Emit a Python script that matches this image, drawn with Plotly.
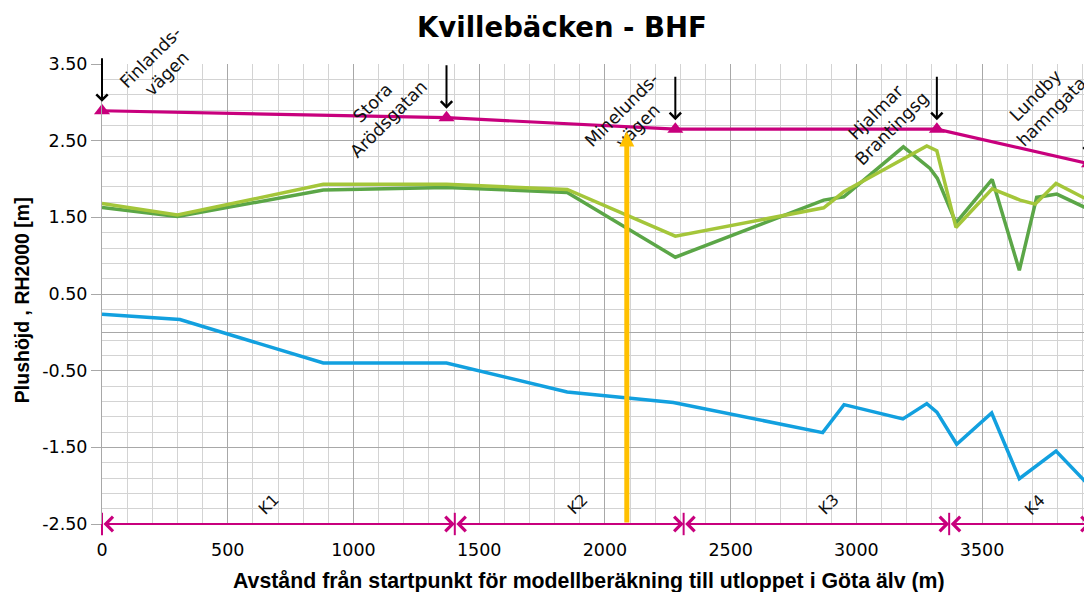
import plotly.graph_objects as go

# ---------------- data ----------------
dist_dg = [0, 300, 880, 1370, 1850, 2280, 2870, 2950, 3187, 3293, 3322, 3396, 3540, 3648, 3717, 3797, 3937]
level_dg = [1.63, 1.51, 1.855, 1.89, 1.825, 0.98, 1.725, 1.768, 2.42, 2.138, 2.008, 1.428, 1.995, 0.81, 1.76, 1.803, 1.585]

dist_lg = [0, 300, 880, 1370, 1850, 2280, 2870, 2950, 3280, 3320, 3396, 3540, 3651, 3711, 3794, 3937]
level_lg = [1.68, 1.53, 1.93, 1.93, 1.864, 1.254, 1.624, 1.833, 2.43, 2.368, 1.368, 1.872, 1.725, 1.672, 1.943, 1.70]

dist_bl = [0, 310, 880, 1370, 1850, 2272, 2866, 2951, 3185, 3280, 3320, 3399, 3538, 3648, 3794, 3937]
level_bl = [0.236, 0.167, -0.40, -0.40, -0.778, -0.916, -1.308, -0.943, -1.13, -0.93, -1.04, -1.46, -1.052, -1.91, -1.548, -2.04]

bridge_names = ["Finlands-<br>vägen", "Stora<br>Arödsgatan", "Minelunds-<br>vägen",
                "Hjalmar<br>Brantingsg", "Lundby<br>hamngata"]
bridge_dist = [0, 1370, 2280, 3320, 3925]
bridge_level = [2.89, 2.80, 2.65, 2.65, 2.20]

reach_names = ["K1", "K2", "K3", "K4"]
reach_bounds = [0, 1403, 2313, 3369, 3932]
reach_label_dist = [661, 1889, 2888, 3710]

marker_dist = 2087
marker_top = 2.62

x_ticks = [0, 500, 1000, 1500, 2000, 2500, 3000, 3500]
y_ticks = [-2.5, -1.5, -0.5, 0.5, 1.5, 2.5, 3.5]
y_tick_text = [f"{v:.2f}" for v in y_ticks]

# ---------------- styling ----------------
MAG = "#C8007D"
DG = "#5BA647"
LG = "#A4C63A"
BL = "#12A0DF"
OR = "#FFC000"
FONT = "DejaVu Sans"
BOLD = "Liberation Sans"

fig = go.Figure()
fig.add_trace(go.Scatter(x=dist_bl, y=level_bl, mode="lines", line=dict(color=BL, width=3.5), showlegend=False))
fig.add_trace(go.Scatter(x=dist_dg, y=level_dg, mode="lines", line=dict(color=DG, width=3.5), showlegend=False))
fig.add_trace(go.Scatter(x=dist_lg, y=level_lg, mode="lines", line=dict(color=LG, width=3.5), showlegend=False))
fig.add_trace(go.Scatter(x=bridge_dist, y=bridge_level, mode="lines+markers",
                         line=dict(color=MAG, width=3.2),
                         marker=dict(symbol="triangle-up", size=14, color=MAG),
                         showlegend=False, cliponaxis=False))
# reach boundary bars
fig.add_trace(go.Scatter(x=reach_bounds[:-1], y=[y_ticks[0]] * (len(reach_bounds) - 1), mode="markers",
                         marker=dict(symbol="line-ns-open", size=16, color=MAG, line=dict(color=MAG, width=2)),
                         showlegend=False, cliponaxis=False))

ann = []
# bridge labels and arrows
label_shift = [(57, 45), (-66, 6), (-46, 11), (-53, 9), (-45, 60)]
for name, bx, by, (sx, sy) in zip(bridge_names, bridge_dist, bridge_level, label_shift):
    ann.append(dict(x=bx, y=by, xref="x", yref="y", text=name, showarrow=False,
                    textangle=-45, xshift=sx, yshift=sy, align="center",
                    font=dict(family=FONT, size=17.5, color="#111")))
    ann.append(dict(x=bx, y=by, xref="x", yref="y", text="", showarrow=True,
                    ax=0, ay=-54, arrowhead=4, arrowsize=1.1, arrowwidth=2,
                    arrowcolor="black", standoff=9))

# reach arrows along the bottom
for i, name in enumerate(reach_names):
    ann.append(dict(x=reach_bounds[i + 1], y=y_ticks[0], ax=reach_bounds[i], ay=y_ticks[0],
                    xref="x", yref="y", axref="x", ayref="y", text="", showarrow=True,
                    arrowside="end+start", arrowhead=4, startarrowhead=4,
                    arrowsize=1.4, startarrowsize=1.4, arrowwidth=2, arrowcolor=MAG,
                    standoff=0, startstandoff=0))
    ann.append(dict(x=reach_label_dist[i], y=y_ticks[0], xref="x", yref="y", text=name,
                    showarrow=False, textangle=-45, yshift=20,
                    font=dict(family=FONT, size=16, color="#111")))

# orange marker arrow
ann.append(dict(x=marker_dist, y=marker_top, ax=marker_dist, ay=y_ticks[0],
                xref="x", yref="y", axref="x", ayref="y", text="", showarrow=True,
                arrowhead=2, arrowsize=0.6, arrowwidth=5, arrowcolor=OR, standoff=0))

# axis titles
ann.append(dict(x=0.492, y=0, xref="paper", yref="paper", yshift=-57, xanchor="center", yanchor="middle",
                text="<b>Avstånd från startpunkt för modellberäkning till utloppet i Göta älv (m)</b>",
                showarrow=False, font=dict(family=BOLD, size=21.3, color="black")))
ann.append(dict(x=0, y=0.4865, xref="paper", yref="paper", xshift=-80, xanchor="center", yanchor="middle",
                text="<b>Plushöjd , RH2000 [m]</b>", textangle=-90,
                showarrow=False, font=dict(family=BOLD, size=19.5, color="black")))

# the page adds an 8 px body margin, so the figure is 8 px smaller and starts at (8, 8)
fig.update_layout(
    width=1084, height=584,
    margin=dict(l=94, r=0, t=56, b=68),
    paper_bgcolor="white", plot_bgcolor="white",
    title=dict(text="<b>Kvillebäcken - BHF</b>", x=0.511, xanchor="center", y=0.966, yanchor="middle",
               font=dict(family=FONT, size=27.5, color="black")),
    annotations=ann,
    showlegend=False,
)
fig.update_xaxes(range=[0, 3937], tickvals=x_ticks, showgrid=True, gridcolor="#A8A8A8", gridwidth=1,
                 minor=dict(dtick=100, tick0=0, showgrid=True, gridcolor="#D3D3D3", gridwidth=1),
                 zeroline=False, showline=False, ticks="", ticklabelstandoff=13,
                 tickfont=dict(family=FONT, size=17.5, color="black"))
fig.update_yaxes(range=[-2.5, 3.5], tickvals=y_ticks, ticktext=y_tick_text, showgrid=True,
                 gridcolor="#A8A8A8", gridwidth=1,
                 minor=dict(dtick=0.2, tick0=-2.5, showgrid=True, gridcolor="#D3D3D3", gridwidth=1),
                 zeroline=True, zerolinecolor="#A8A8A8", zerolinewidth=1,
                 showline=True, linecolor="#A8A8A8", ticks="outside", ticklen=10, tickcolor="#A8A8A8",
                 tickfont=dict(family=FONT, size=17.5, color="black"))

fig.write_html("out.html")
